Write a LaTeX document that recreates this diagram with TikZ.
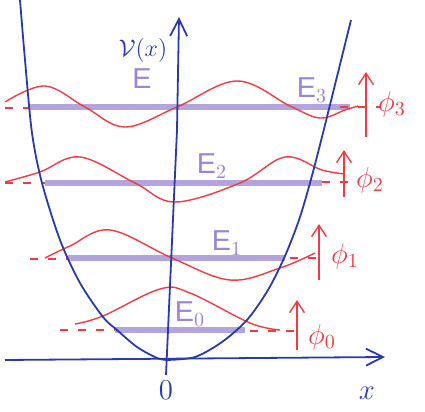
\documentclass[tikz,border=0pt]{standalone}
\usepackage{fontspec}
\setsansfont{Liberation Sans}
\usetikzlibrary{arrows.meta, positioning}
\definecolor{axisblue}{HTML}{2A3AA8}
\definecolor{waveRed}{HTML}{EE3B45}
\definecolor{levelpurple}{HTML}{9A86D2}

\begin{document}
\begin{tikzpicture}[
    x=0.5pt, y=-0.5pt,
    axis/.style={axisblue, line width=0.9pt, -{Straight Barb[length=3mm, width=3mm]}},
    pot/.style={axisblue, line width=0.9pt},
    level/.style={levelpurple, opacity=0.75, line width=3.2pt},
    wave/.style={waveRed, line width=0.7pt},
    base/.style={waveRed, line width=0.6pt, dash pattern=on 4pt off 5pt},
    phiarr/.style={waveRed, line width=0.7pt, -{Straight Barb[length=2mm, width=2.6mm]}},
    elab/.style={levelpurple, font=\sffamily\Large},
    plab/.style={waveRed, font=\Large},
]
\useasboundingbox (0,0) rectangle (425,412);
\fill[white] (0,0) rectangle (425,412);

% energy levels
\draw[level] (30,107) -- (350,107);
\draw[level] (45,183) -- (322,183);
\draw[level] (68,258) -- (285,258);
\draw[level] (115,330) -- (245,330);

% dashed baselines of the wave functions
\draw[base] (5,108) -- (30,108);
\draw[base] (340,107) -- (380,107);
\draw[base] (5,183) -- (45,183);
\draw[base] (322,182) -- (350,182);
\draw[base] (30,259) -- (68,259);
\draw[base] (290,258) -- (325,258);
\draw[base] (60,330) -- (115,330);
\draw[base] (250,331) -- (300,331);

% wave functions
\draw[wave] plot[smooth, tension=0.6] coordinates {(5,102) (45,86) (85,107) (125,127) (177,107) (237,81) (290,106) (320,118) (345,110) (358,106)};
\draw[wave] plot[smooth, tension=0.6] coordinates {(5,182) (40,172) (80,157) (135,183) (175,202) (240,183) (285,157) (322,170) (345,174)};
\draw[wave] plot[smooth, tension=0.6] coordinates {(45,258) (70,246) (110,230) (172,258) (230,280) (280,268) (315,253)};
\draw[wave] plot[smooth, tension=0.6] coordinates {(75,324) (103,316) (160,289) (190,293) (250,323) (280,330)};

% potential
\draw[pot] plot[smooth, tension=0.5] coordinates {(20,0) (25,60) (32,133) (42,183) (60,240) (80,283) (103,317) (117,330) (137,347) (157,358) (167,360)};
\draw[pot] plot[smooth, tension=0.5] coordinates {(167,360) (195,357) (222,342) (247,320) (268,290) (285,256) (299,220) (310,183) (323,133) (351,20)};

% axes
\coordinate (xstart) at (5,360);
\coordinate (xend) at (385,357);
\coordinate (ystart) at (166,375);
\coordinate (ymid) at (177,130);
\coordinate (yend) at (179,17);
\draw[axis] (xstart) -- (xend);
\draw[axis] (ystart) -- (ymid) -- (yend);

\node[axisblue, font=\large] (vlab) at (143,50) {$\mathcal{V}(x)$};
\node[axisblue, font=\Large] (origin) at (166,390) {$0$};
\node[axisblue, font=\Large] (xlab) at (367,393) {$x$};

% level labels
\node[elab] (elab) at (142,79) {E};
\node[elab] (e3) at (312,90) {E$_3$};
\node[elab] (e2) at (212,166) {E$_2$};
\node[elab] (e1) at (227,243) {E$_1$};
\node[elab] (e0) at (190,314) {E$_0$};

% wave function axes
\coordinate (p3a) at (366,137);
\coordinate (p3b) at (366,72);
\coordinate (p2a) at (344,197);
\coordinate (p2b) at (344,150);
\coordinate (p1a) at (319,280);
\coordinate (p1b) at (319,224);
\coordinate (p0a) at (297,350);
\coordinate (p0b) at (297,300);
\draw[phiarr] (p3a) -- (p3b);
\draw[phiarr] (p2a) -- (p2b);
\draw[phiarr] (p1a) -- (p1b);
\draw[phiarr] (p0a) -- (p0b);

\node[plab] (phi3) at (392,104) {$\phi_3$};
\node[plab] (phi2) at (370,180) {$\phi_2$};
\node[plab] (phi1) at (345,256) {$\phi_1$};
\node[plab] (phi0) at (322,337) {$\phi_0$};
\end{tikzpicture}
\end{document}
